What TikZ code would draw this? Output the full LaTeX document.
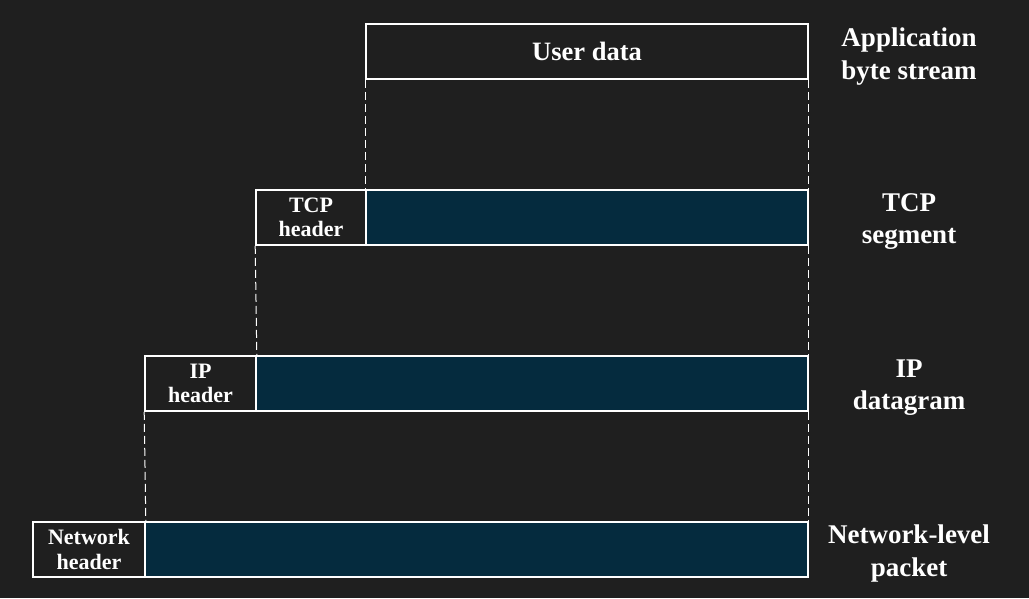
\documentclass[tikz,border=0pt]{standalone}
\usepackage{fontspec}
\setmainfont{Liberation Serif}
\definecolor{bg}{HTML}{1F1F1F}
\definecolor{pay}{HTML}{052B3E}
\begin{document}
\begin{tikzpicture}[x=1pt,y=-1pt,
  hdr/.style={draw=white,line width=1.6pt,fill=bg,inner sep=0pt,text=white,font=\bfseries\fontsize{22}{24.5}\selectfont,align=center},
  payload/.style={draw=white,line width=1.6pt,fill=pay,inner sep=0pt},
  userbox/.style={draw=white,line width=1.6pt,fill=bg,inner sep=0pt,text=white,font=\bfseries\fontsize{26.5}{30}\selectfont},
  lbl/.style={text=white,font=\bfseries\fontsize{27}{32.5}\selectfont,align=center,inner sep=0pt},
  guide/.style={white,line width=1pt,dash pattern=on 8pt off 4pt}]
\fill[bg] (0,0) rectangle (1029,598);
\useasboundingbox (0,0) rectangle (1029,598);
% user data
\node[userbox,minimum width=442pt,minimum height=55pt] (ud) at (587,51.5) {User data};
% tcp
\node[hdr,minimum width=110pt,minimum height=55pt] (th) at (311,217.5) {TCP\\header};
\node[payload,minimum width=442pt,minimum height=55pt] (td) at (587,217.5) {};
% ip
\node[hdr,minimum width=111pt,minimum height=55pt] (ih) at (200.5,383.5) {IP\\header};
\node[payload,minimum width=552pt,minimum height=55pt] (id) at (532,383.5) {};
% network
\node[hdr,minimum width=112pt,minimum height=55pt] (nh) at (89,549.5) {Network\\header};
\node[payload,minimum width=663pt,minimum height=55pt] (nd) at (476.5,549.5) {};
% guides
\draw[guide] (ud.south west) -- (td.north west);
\draw[guide] (ud.south east) -- (td.north east);
\draw[guide] (th.south west) -- (ih.north east);
\draw[guide] (td.south east) -- (id.north east);
\draw[guide] (ih.south west) -- (nh.north east);
\draw[guide] (id.south east) -- (nd.north east);
% labels
\node[lbl] (l1) at (909,56.5) {Application\\byte stream};
\node[lbl] (l2) at (909,221.5) {TCP\\segment};
\node[lbl] (l3) at (909,387.5) {IP\\datagram};
\node[lbl] (l4) at (909,553.5) {Network-level\\packet};
\end{tikzpicture}
\end{document}
